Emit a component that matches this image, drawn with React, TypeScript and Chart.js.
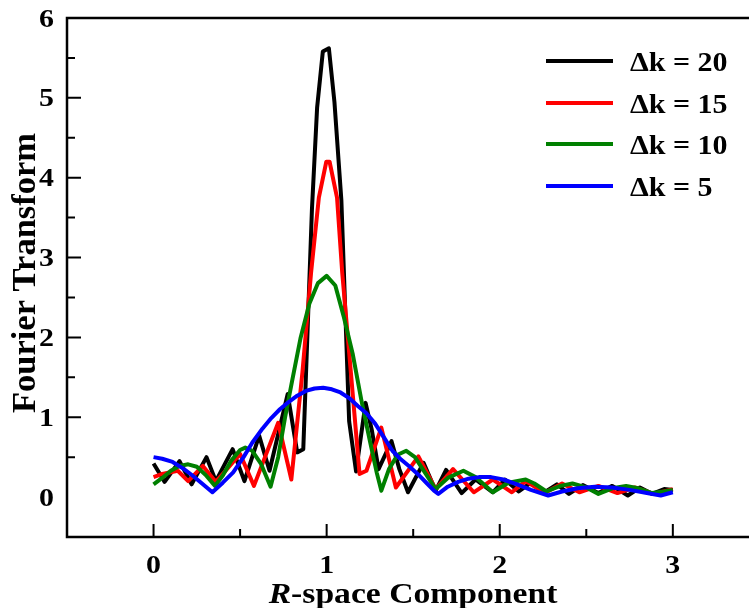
import React, { useEffect, useRef } from "react";
import { Chart, registerables } from "chart.js";

Chart.register(...registerables);

// ---- data ----
const LEGEND_LABELS = ["Δk = 20", "Δk = 15", "Δk = 10", "Δk = 5"];
const SERIES_COLORS = ["#000000", "#ff0000", "#008000", "#0000ff"];

const X_TICKS = [0, 1, 2, 3];
const Y_TICKS = [0, 1, 2, 3, 4, 5, 6];

const R_DK20 = [0.0, 0.064, 0.15, 0.22, 0.306, 0.36, 0.457, 0.525, 0.61, 0.67, 0.775, 0.83, 0.865, 0.915, 0.945, 0.978, 1.013, 1.045, 1.085, 1.13, 1.17, 1.225, 1.26, 1.30, 1.375, 1.42, 1.47, 1.56, 1.63, 1.69, 1.78, 1.86, 1.96, 2.03, 2.11, 2.18, 2.26, 2.33, 2.40, 2.48, 2.57, 2.65, 2.74, 2.81, 2.88, 2.95, 3.0];
const V_DK20 = [0.42, 0.19, 0.45, 0.16, 0.5, 0.2, 0.6, 0.2, 0.77, 0.33, 1.29, 0.56, 0.6, 3.6, 4.88, 5.58, 5.62, 4.95, 3.72, 0.95, 0.32, 1.18, 0.85, 0.35, 0.7, 0.35, 0.06, 0.43, 0.08, 0.34, 0.05, 0.22, 0.06, 0.22, 0.07, 0.18, 0.06, 0.16, 0.04, 0.15, 0.05, 0.14, 0.02, 0.12, 0.04, 0.1, 0.09];

const R_DK15 = [0.0, 0.05, 0.14, 0.2, 0.285, 0.36, 0.5, 0.58, 0.72, 0.796, 0.86, 0.91, 0.955, 0.998, 1.017, 1.06, 1.09, 1.14, 1.19, 1.23, 1.316, 1.4, 1.53, 1.63, 1.73, 1.85, 1.96, 2.07, 2.15, 2.26, 2.36, 2.46, 2.57, 2.68, 2.78, 2.89, 3.0];
const V_DK15 = [0.25, 0.29, 0.33, 0.2, 0.39, 0.19, 0.54, 0.14, 0.93, 0.22, 1.56, 2.81, 3.75, 4.2, 4.2, 3.75, 2.81, 1.56, 0.29, 0.33, 0.87, 0.12, 0.51, 0.1, 0.35, 0.06, 0.22, 0.06, 0.2, 0.05, 0.17, 0.06, 0.14, 0.05, 0.12, 0.04, 0.1];

const R_DK10 = [0.0, 0.05, 0.1, 0.15, 0.2, 0.25, 0.3, 0.355, 0.4, 0.45, 0.5, 0.53, 0.57, 0.62, 0.676, 0.72, 0.76, 0.8, 0.85, 0.9, 0.95, 1.0, 1.05, 1.1, 1.15, 1.2, 1.25, 1.29, 1.316, 1.36, 1.41, 1.46, 1.51, 1.57, 1.63, 1.7, 1.79, 1.86, 1.96, 2.05, 2.15, 2.2, 2.27, 2.35, 2.42, 2.5, 2.57, 2.65, 2.73, 2.8, 2.88, 2.95, 3.0];
const V_DK10 = [0.16, 0.24, 0.33, 0.39, 0.41, 0.38, 0.28, 0.14, 0.27, 0.46, 0.59, 0.62, 0.58, 0.42, 0.13, 0.5, 1.0, 1.45, 2.0, 2.42, 2.68, 2.77, 2.65, 2.25, 1.8, 1.22, 0.7, 0.3, 0.08, 0.35, 0.53, 0.58, 0.5, 0.3, 0.1, 0.24, 0.33, 0.25, 0.06, 0.18, 0.22, 0.17, 0.07, 0.14, 0.17, 0.12, 0.04, 0.11, 0.14, 0.11, 0.05, 0.07, 0.09];

const R_DK5 = [0.0, 0.05, 0.11, 0.17, 0.225, 0.28, 0.34, 0.4, 0.46, 0.52, 0.57, 0.63, 0.68, 0.73, 0.78, 0.83, 0.88, 0.93, 0.98, 1.03, 1.08, 1.13, 1.18, 1.23, 1.28, 1.33, 1.38, 1.43, 1.48, 1.53, 1.58, 1.62, 1.645, 1.7, 1.76, 1.82, 1.88, 1.95, 2.02, 2.1, 2.18, 2.28, 2.36, 2.45, 2.55, 2.65, 2.75, 2.85, 2.93, 3.0];
const V_DK5 = [0.5, 0.48, 0.44, 0.36, 0.27, 0.17, 0.06, 0.18, 0.31, 0.5, 0.68, 0.86, 0.99, 1.1, 1.19, 1.27, 1.33, 1.36, 1.37, 1.35, 1.31, 1.24, 1.14, 1.05, 0.92, 0.75, 0.58, 0.47, 0.38, 0.28, 0.17, 0.08, 0.04, 0.13, 0.19, 0.23, 0.25, 0.25, 0.22, 0.16, 0.09, 0.02, 0.07, 0.11, 0.13, 0.12, 0.09, 0.05, 0.02, 0.06];

const SERIES_R = [R_DK20, R_DK15, R_DK10, R_DK5];
const SERIES_V = [V_DK20, V_DK15, V_DK10, V_DK5];

const X_TITLE_ITALIC = "R";
const X_TITLE_REST = "-space Component";
const Y_TITLE = "Fourier Transform";

const FONT = "'Liberation Serif', 'Times New Roman', serif";

function stretchedText(ctx: CanvasRenderingContext2D, text: string, x: number, y: number, sx: number, align: "left" | "right" | "center") {
  const w = ctx.measureText(text).width * sx;
  let x0 = x;
  if (align === "right") x0 = x - w;
  else if (align === "center") x0 = x - w / 2;
  ctx.save();
  ctx.translate(x0, y);
  ctx.scale(sx, 1);
  ctx.textAlign = "left";
  ctx.fillText(text, 0, 0);
  ctx.restore();
  return w;
}

const framePlugin = {
  id: "frame",
  afterDraw(chart: any) {
    const ctx: CanvasRenderingContext2D = chart.ctx;
    const { left, top, bottom } = chart.chartArea;
    const right = chart.width;
    const xs = chart.scales.x;
    const ys = chart.scales.y;
    ctx.save();
    ctx.strokeStyle = "#000";
    ctx.fillStyle = "#000";
    ctx.lineCap = "butt";
    // frame
    ctx.lineWidth = 2.5;
    ctx.beginPath();
    ctx.moveTo(right, top);
    ctx.lineTo(left, top);
    ctx.lineTo(left, bottom);
    ctx.lineTo(right, bottom);
    ctx.stroke();
    // ticks
    ctx.lineWidth = 2;
    ctx.beginPath();
    for (let v = 0.5; v < 6; v += 0.5) {
      const py = ys.getPixelForValue(v);
      const len = Number.isInteger(v) ? 14 : 8;
      ctx.moveTo(left, py);
      ctx.lineTo(left + len, py);
    }
    for (let v = 0; v <= 3; v += 0.5) {
      const px = xs.getPixelForValue(v);
      const len = Number.isInteger(v) ? 13 : 8;
      ctx.moveTo(px, bottom);
      ctx.lineTo(px, bottom - len);
    }
    ctx.stroke();
    // tick labels
    ctx.font = `bold 26px ${FONT}`;
    ctx.textBaseline = "alphabetic";
    for (const v of Y_TICKS) {
      const py = ys.getPixelForValue(v);
      stretchedText(ctx, String(v), 54, py + 8.5, 1.15, "right");
    }
    for (const v of X_TICKS) {
      const px = xs.getPixelForValue(v);
      stretchedText(ctx, String(v), px, 573, 1.15, "center");
    }
    // x title
    const sxT = 1.18;
    ctx.font = `italic bold 28.5px ${FONT}`;
    const wI = ctx.measureText(X_TITLE_ITALIC).width * sxT;
    ctx.font = `bold 28.5px ${FONT}`;
    const wR = ctx.measureText(X_TITLE_REST).width * sxT;
    const startX = 413 - (wI + wR) / 2;
    ctx.font = `italic bold 28.5px ${FONT}`;
    stretchedText(ctx, X_TITLE_ITALIC, startX, 603, sxT, "left");
    ctx.font = `bold 28.5px ${FONT}`;
    stretchedText(ctx, X_TITLE_REST, startX + wI, 603, sxT, "left");
    // y title
    ctx.save();
    ctx.translate(35, 273);
    ctx.rotate(-Math.PI / 2);
    ctx.font = `bold 34.5px ${FONT}`;
    ctx.textAlign = "center";
    ctx.textBaseline = "alphabetic";
    ctx.fillText(Y_TITLE, 0, 0);
    ctx.restore();
    // legend
    const rows = [61, 103, 144, 186];
    ctx.font = `bold 27px ${FONT}`;
    LEGEND_LABELS.forEach((lab, i) => {
      ctx.strokeStyle = SERIES_COLORS[i];
      ctx.lineWidth = 4;
      ctx.beginPath();
      ctx.moveTo(546, rows[i]);
      ctx.lineTo(613, rows[i]);
      ctx.stroke();
      ctx.fillStyle = "#000";
      stretchedText(ctx, lab, 630, rows[i] + 9.5, 1.11, "left");
    });
    ctx.restore();
  },
};

export default function App() {
  const ref = useRef<HTMLCanvasElement | null>(null);
  useEffect(() => {
    if (!ref.current) return;
    const datasets = SERIES_R.map((rs, i) => ({
      label: LEGEND_LABELS[i],
      data: rs.map((r, j) => ({ x: r, y: SERIES_V[i][j] })),
      borderColor: SERIES_COLORS[i],
      backgroundColor: SERIES_COLORS[i],
      borderWidth: 4,
      pointRadius: 0,
      tension: 0,
      fill: false,
      order: 3 - i,
      borderJoinStyle: "round" as const,
    }));
    const chart = new Chart(ref.current, {
      type: "line",
      data: { datasets },
      options: {
        animation: false,
        responsive: false,
        devicePixelRatio: 1,
        layout: { padding: { left: 67, top: 18, right: 0, bottom: 71 } },
        plugins: { legend: { display: false }, tooltip: { enabled: false } },
        scales: {
          x: { type: "linear", min: -0.5, max: 3.44, display: false },
          y: { type: "linear", min: -0.5, max: 6, display: false },
        },
      },
      plugins: [framePlugin],
    });
    return () => chart.destroy();
  }, []);
  return (
    <div style={{ position: "fixed", left: 0, top: 0, width: 749, height: 608, background: "#fff" }}>
      <canvas ref={ref} width={749} height={608} />
    </div>
  );
}
